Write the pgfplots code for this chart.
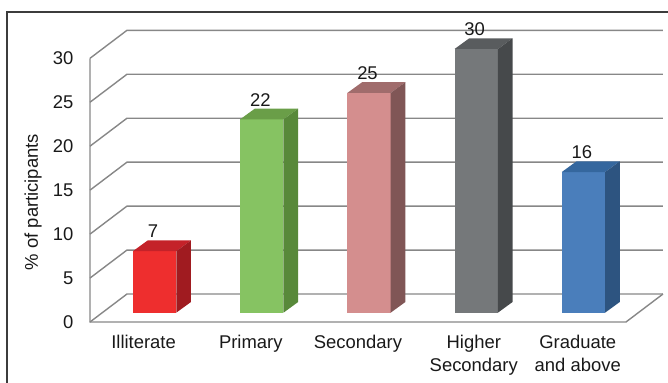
\documentclass[border=0pt]{standalone}
\usepackage{pgfplots}
\pgfplotsset{compat=1.18}
\usepackage{pgfplotstable}
\usepackage{fontspec}
\setmainfont{Liberation Sans}

\definecolor{gridcol}{RGB}{135,135,135}
\definecolor{framecol}{RGB}{60,60,60}
\definecolor{textcol}{RGB}{25,25,25}
\definecolor{c0f}{RGB}{238,46,46}
\definecolor{c0t}{RGB}{196,34,41}
\definecolor{c0s}{RGB}{160,27,32}
\definecolor{c1f}{RGB}{134,195,98}
\definecolor{c1t}{RGB}{106,158,72}
\definecolor{c1s}{RGB}{88,137,58}
\definecolor{c2f}{RGB}{212,142,142}
\definecolor{c2t}{RGB}{160,108,108}
\definecolor{c2s}{RGB}{128,86,86}
\definecolor{c3f}{RGB}{117,120,122}
\definecolor{c3t}{RGB}{89,92,94}
\definecolor{c3s}{RGB}{70,73,75}
\definecolor{c4f}{RGB}{74,126,187}
\definecolor{c4t}{RGB}{53,103,158}
\definecolor{c4s}{RGB}{45,84,128}

\newcommand\chartfont{\fontsize{18.5}{22.3}\selectfont}

\pgfplotstableread{
x y
0 7
1 22
2 25
3 30
4 16
}\edudata

% 3D bar drawn relative to the data point (front plane); depth offsets in bp
\pgfdeclareplotmark{bar3d}{%
  \pgfmathsetmacro\bh{\valy*263.7/30}%
  \pgfmathsetmacro\yfb{9.3-\bh}%
  \pgfmathsetmacro\ybb{20-\bh}%
  \pgfmathtruncatemacro\bi{round(\valx)}%
  \ifcase\bi\relax \def\cf{c0f}\def\ct{c0t}\def\cs{c0s}%
  \or \def\cf{c1f}\def\ct{c1t}\def\cs{c1s}%
  \or \def\cf{c2f}\def\ct{c2t}\def\cs{c2s}%
  \or \def\cf{c3f}\def\ct{c3t}\def\cs{c3s}%
  \else \def\cf{c4f}\def\ct{c4t}\def\cs{c4s}%
  \fi
  \pgfsetfillcolor{\cf}%
  \pgfpathrectanglecorners{\pgfpoint{-10.65bp}{\yfb bp}}{\pgfpoint{32.65bp}{9.3bp}}%
  \pgfusepath{fill}%
  \pgfsetfillcolor{\ct}%
  \pgfpathmoveto{\pgfpoint{-10.65bp}{9.3bp}}%
  \pgfpathlineto{\pgfpoint{32.65bp}{9.3bp}}%
  \pgfpathlineto{\pgfpoint{47.35bp}{20bp}}%
  \pgfpathlineto{\pgfpoint{4.05bp}{20bp}}%
  \pgfpathclose
  \pgfusepath{fill}%
  \pgfsetfillcolor{\cs}%
  \pgfpathmoveto{\pgfpoint{32.65bp}{\yfb bp}}%
  \pgfpathlineto{\pgfpoint{32.65bp}{9.3bp}}%
  \pgfpathlineto{\pgfpoint{47.35bp}{20bp}}%
  \pgfpathlineto{\pgfpoint{47.35bp}{\ybb bp}}%
  \pgfpathclose
  \pgfusepath{fill}%
}

\begin{document}
\begin{tikzpicture}
\useasboundingbox (-90bp,-61bp) rectangle (578bp,322bp);
\draw[color=framecol, line width=1.2bp] (-83bp,-90bp) -- (-83bp,310bp) -- (600bp,310bp);
\begin{axis}[
  at={(0,0)}, anchor=south west,
  scale only axis, width=536bp, height=263.7bp,
  xmin=-0.5, xmax=4.5, ymin=0, ymax=30,
  enlargelimits=false, clip=false,
  axis line style={draw=none},
  major tick length=0pt,
  tick style={draw=none},
  ytick={0,5,10,15,20,25,30},
  xtick={0,1,2,3.08,4.05},
  xticklabels={Illiterate,Primary,Secondary,{Higher\\Secondary},{Graduate\\and above}},
  xticklabel style={font=\chartfont, text=textcol, align=center, anchor=north, yshift=-10bp},
  yticklabel style={font=\chartfont, text=textcol, anchor=east, xshift=-13bp},
  /pgf/number format/assume math mode=true,
  ylabel={\% of participants},
  ylabel style={font=\chartfont, text=textcol, at={(axis description cs:-0.106,0.455)}, anchor=center},
  wall/.style={color=gridcol, line width=1.4bp, mark=none, forget plot},
]
% walls and gridlines
\addplot[wall] coordinates {(-0.5,0) (-0.155,3.185) (4.845,3.185)};
\addplot[wall] coordinates {(-0.5,5) (-0.155,8.185) (4.845,8.185)};
\addplot[wall] coordinates {(-0.5,10) (-0.155,13.185) (4.845,13.185)};
\addplot[wall] coordinates {(-0.5,15) (-0.155,18.185) (4.845,18.185)};
\addplot[wall] coordinates {(-0.5,20) (-0.155,23.185) (4.845,23.185)};
\addplot[wall] coordinates {(-0.5,25) (-0.155,28.185) (4.845,28.185)};
\addplot[wall] coordinates {(-0.5,30) (-0.155,33.185) (4.845,33.185)};
\addplot[wall] coordinates {(-0.5,30) (-0.5,0) (4.5,0) (4.845,3.185)};
% bars
\addplot[
  scatter, only marks, mark=bar3d,
  scatter/@pre marker code/.code={},
  scatter/@post marker code/.code={},
  visualization depends on={rawx \as \valx},
  visualization depends on={rawy \as \valy},
  nodes near coords,
  every node near coord/.append style={anchor=base, xshift=9.5bp, yshift=22.5bp, font=\chartfont, text=textcol},
] table[x=x, y=y] {\edudata};
\end{axis}
\end{tikzpicture}
\end{document}
